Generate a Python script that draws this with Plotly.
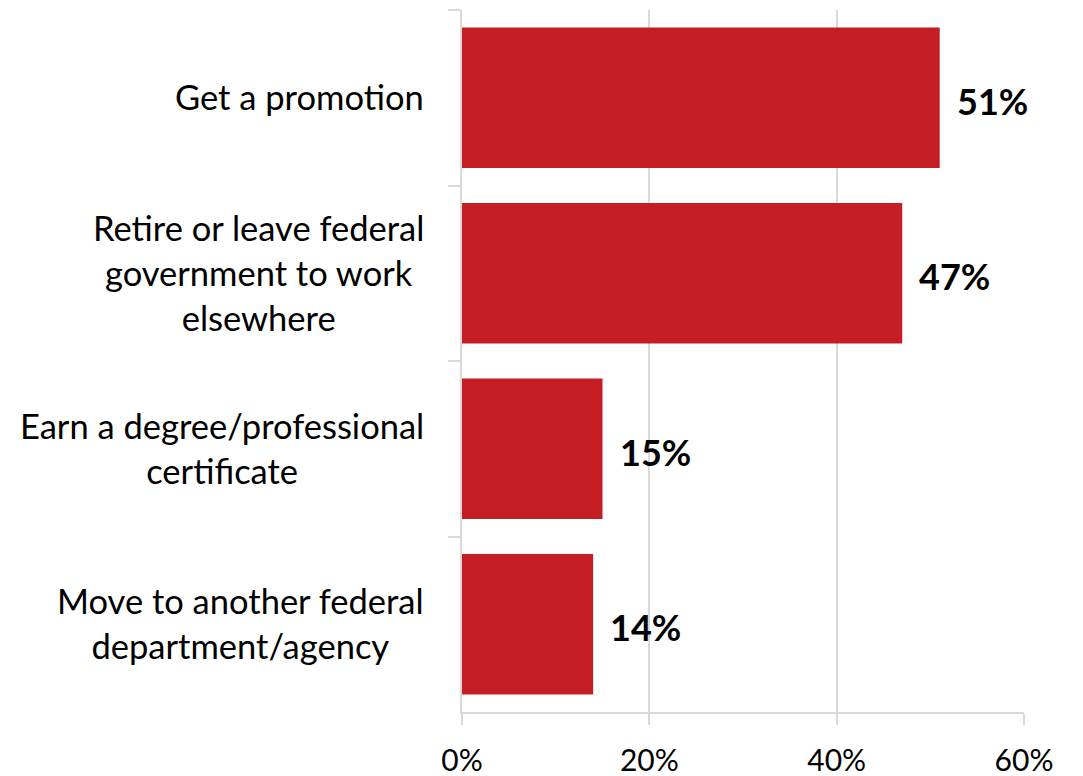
import plotly.graph_objects as go

categories = [
    "Get a promotion",
    "Retire or leave federal<br>government to work<br>elsewhere",
    "Earn a degree/professional<br>certificate",
    "Move to another federal<br>department/agency",
]
values = [0.51, 0.47, 0.15, 0.14]
value_labels = ["51%", "47%", "15%", "14%"]
x_ticks = [0, 0.2, 0.4, 0.6]
x_tick_labels = ["0%", "20%", "40%", "60%"]

BAR_COLOR = "#C41E24"
GRID = "#D9D9D9"
FONT = "Lato, 'Open Sans', sans-serif"

fig = go.Figure()
fig.add_trace(go.Bar(
    y=categories,
    x=values,
    orientation="h",
    marker=dict(color=BAR_COLOR, line=dict(width=0)),
    width=0.8,
    hoverinfo="skip",
))

annotations = []
# value labels just past each bar end
for cat, v, lab in zip(categories, values, value_labels):
    annotations.append(dict(
        x=v, y=cat, xref="x", yref="y", text=f"<b>{lab}</b>",
        showarrow=False, xanchor="left", yanchor="middle", xshift=15, yshift=-3,
        font=dict(family=FONT, size=36, color="#000000"),
    ))
# category labels, centered lines, right edge left of the axis
for cat in categories:
    annotations.append(dict(
        x=0, y=cat, xref="paper", yref="y", text=cat,
        showarrow=False, xanchor="right", yanchor="middle", align="center",
        xshift=-36, yshift=1,
        font=dict(family=FONT, size=34.5, color="#000000"),
    ))

fig.update_layout(
    width=1083, height=776,
    margin=dict(l=462, r=59, t=10, b=64),
    plot_bgcolor="white", paper_bgcolor="white",
    showlegend=False,
    bargap=0.2,
    annotations=annotations,
    xaxis=dict(
        range=[0, 0.6], tickvals=x_ticks, ticktext=x_tick_labels,
        showgrid=True, gridcolor=GRID, gridwidth=2,
        showline=True, linecolor=GRID, linewidth=2,
        ticks="outside", ticklen=11, tickcolor=GRID, tickwidth=2,
        ticklabelstandoff=10, automargin=False,
        tickfont=dict(family=FONT, size=30, color="#000000"),
        zeroline=False, fixedrange=True,
    ),
    yaxis=dict(
        autorange="reversed", type="category",
        tickson="boundaries", ticks="outside", ticklen=12, tickcolor=GRID, tickwidth=2,
        showticklabels=False, automargin=False,
        showline=True, linecolor=GRID, linewidth=2,
        showgrid=False, zeroline=False, fixedrange=True,
    ),
)

fig.write_html("out.html")
